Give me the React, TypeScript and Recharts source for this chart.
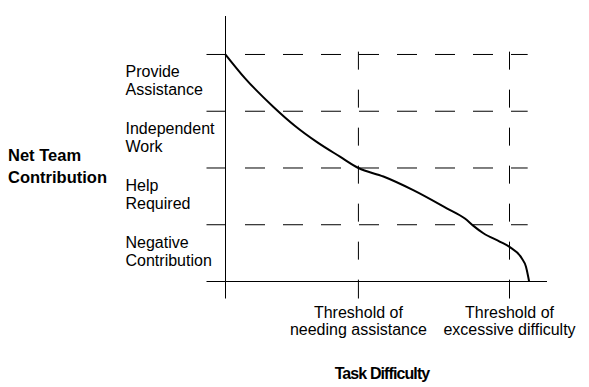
import { ComposedChart, Line, XAxis, YAxis, ReferenceLine } from "recharts"

// task difficulty (0 = axis, 100 = threshold of excessive difficulty)
const difficulty = [0, 6.9, 16.8, 24.5, 32.1, 40.3, 46.8, 55.6, 66.1, 77.9, 84.3, 87.3, 90.8, 96.7, 100, 104.3, 105.8, 106.6, 106.9]
// net team contribution, in bands (0..1 negative, 1..2 help, 2..3 independent, 3..4 assistance)
const contribution = [4, 3.58, 3.08, 2.74, 2.46, 2.2, 2.0, 1.85, 1.61, 1.29, 1.11, 0.98, 0.85, 0.7, 0.61, 0.41, 0.26, 0.08, 0]

const bandLevels = [0, 1, 2, 3, 4]
const bandLabels = [
  ["Negative", "Contribution"],
  ["Help", "Required"],
  ["Independent", "Work"],
  ["Provide", "Assistance"],
]

const thresholds = [46.8, 100]
const thresholdLabels = [
  ["Threshold of", "needing assistance"],
  ["Threshold of", "excessive difficulty"],
]

const curve = difficulty.map((x, i) => ({ x, y: contribution[i] }))

const font = "'Liberation Sans', Arial, Helvetica, sans-serif"

function BandTick(props: any) {
  const { x, y, payload } = props
  const v = payload.value
  if (v < 1) return null
  const lines = bandLabels[v - 1]
  return (
    <g>
      <text x={x - 81} y={y + 23} fontSize={16} fontFamily={font} fill="#000">{lines[0]}</text>
      <text x={x - 81} y={y + 41} fontSize={16} fontFamily={font} fill="#000">{lines[1]}</text>
    </g>
  )
}

function ThresholdTick(props: any) {
  const { x, y, payload } = props
  const idx = thresholds.indexOf(payload.value)
  if (idx < 0) return null
  const lines = thresholdLabels[idx]
  return (
    <g>
      <text x={x} y={y + 19} textAnchor="middle" fontSize={16} fontFamily={font} fill="#000">{lines[0]}</text>
      <text x={x} y={y + 36} textAnchor="middle" fontSize={16} fontFamily={font} fill="#000">{lines[1]}</text>
    </g>
  )
}

const YTitle = () => (
  <g>
    <text x={8} y={161} fontSize={16.5} fontWeight="bold" fontFamily={font} fill="#000">Net Team</text>
    <text x={8} y={183} fontSize={16.5} fontWeight="bold" fontFamily={font} fill="#000">Contribution</text>
  </g>
)

const XTitle = () => (
  <text x={382} y={379} textAnchor="middle" fontSize={16} letterSpacing={-0.9} fontWeight="bold" fontFamily={font} fill="#000">
    Task Difficulty
  </text>
)

export default function App() {
  return (
    <div style={{ position: "absolute", left: 0, top: 0, background: "#fff" }}>
      <ComposedChart
        width={589}
        height={387}
        data={curve}
        margin={{ top: 16, right: 42, bottom: 75.5, left: 0 }}
      >
        <XAxis
          dataKey="x"
          type="number"
          domain={[0, 113.2]}
          ticks={[0, ...thresholds]}
          height={30}
          tickSize={17}
          tickMargin={0}
          stroke="#000"
          tickLine={{ stroke: "#000" }}
          axisLine={{ stroke: "#000" }}
          tick={<ThresholdTick />}
          interval={0}
          label={<XTitle />}
        />
        <YAxis
          type="number"
          domain={[0, 4.678]}
          ticks={bandLevels}
          width={225.5}
          tickSize={19}
          tickMargin={0}
          stroke="#000"
          tickLine={{ stroke: "#000" }}
          axisLine={{ stroke: "#000" }}
          tick={<BandTick />}
          interval={0}
          label={<YTitle />}
        />
        {bandLevels.slice(1).map((v) => (
          <ReferenceLine
            key={"h" + v}
            segment={[{ x: 6.87, y: v }, { x: 106.4, y: v }]}
            stroke="#000"
            strokeDasharray="20 18"
          />
        ))}
        {thresholds.map((t) => (
          <ReferenceLine
            key={"v" + t}
            segment={[{ x: t, y: 4.05 }, { x: t, y: 0 }]}
            stroke="#000"
            strokeDasharray="18 20"
          />
        ))}
        <Line
          type="monotone"
          dataKey="y"
          stroke="#000"
          strokeWidth={2}
          dot={false}
          isAnimationActive={false}
        />
      </ComposedChart>
    </div>
  )
}
